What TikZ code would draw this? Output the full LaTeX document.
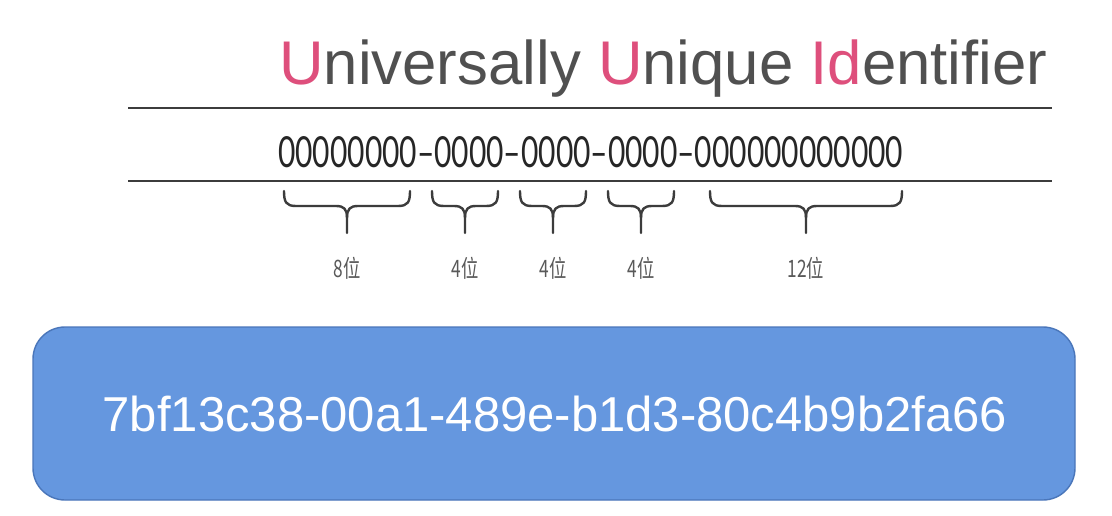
\documentclass[tikz,border=0pt]{standalone}
\usepackage{fontspec}
\setmainfont{Liberation Sans}
\newfontfamily\cjk{Noto Sans CJK SC}
\newfontfamily\digitfont{Lato}
\definecolor{titlegray}{HTML}{505050}
\definecolor{titlepink}{HTML}{DE4F7C}
\definecolor{rulegray}{HTML}{3C3C3C}
\definecolor{boxfill}{HTML}{6597DF}
\definecolor{boxedge}{HTML}{4A76BA}
\tikzset{
  hrule/.style={draw=rulegray, line width=2.6pt},
  bracepath/.style={draw=rulegray, line width=2.4pt, line cap=round, line join=round},
  bitlabel/.style={text=rulegray!85, inner sep=0pt, font=\cjk\fontsize{24}{26}\selectfont, xscale=0.72},
  uuidbox/.style={draw=boxedge, line width=1.4pt, fill=boxfill, rounded corners=32pt},
}
% custom brace: #1 = left x, #2 = right x
\newcommand\ubrace[2]{%
  \pgfmathsetmacro\bm{(#1+#2)/2}%
  \draw[bracepath] (#1,-191) .. controls (#1,-202) and (#1+2,-206) .. (#1+12,-206)
     -- (\bm-11,-206) .. controls (\bm-3,-206) and (\bm,-209) .. (\bm,-218) -- (\bm,-233);
  \draw[bracepath] (#2,-191) .. controls (#2,-202) and (#2-2,-206) .. (#2-12,-206)
     -- (\bm+11,-206) .. controls (\bm+3,-206) and (\bm,-209) .. (\bm,-218);
}
\begin{document}
\begin{tikzpicture}[x=1pt,y=1pt]
\useasboundingbox[fill=white] (0,0) rectangle (1112,-516);
% title
\node[anchor=base west, inner sep=0pt, text=titlegray, font=\fontsize{61.7}{70}\selectfont] (title) at (279,-85)
  {\textcolor{titlepink}{U}niversally \textcolor{titlepink}{U}nique \textcolor{titlepink}{Id}entifier};
% rules
\coordinate (r1a) at (128,-108); \coordinate (r1b) at (1052,-108);
\coordinate (r2a) at (128,-181); \coordinate (r2b) at (1052,-181);
\draw[hrule] (r1a) -- (r1b);
\draw[hrule] (r2a) -- (r2b);
% zeros
\node[anchor=west, inner sep=0pt, text=black!85] (zeros) at (278,-152)
  {\resizebox{625pt}{31pt}{\digitfont 00000000–0000–0000–0000–000000000000}};
% braces
\ubrace{284}{410}
\ubrace{432}{498}
\ubrace{520}{586}
\ubrace{608}{674}
\ubrace{710}{902}
\node[bitlabel] (l1) at (347,-268) {8位};
\node[bitlabel] (l2) at (465,-268) {4位};
\node[bitlabel] (l3) at (553,-268) {4位};
\node[bitlabel] (l4) at (641,-268) {4位};
\node[bitlabel] (l5) at (806,-268) {12位};
% blue box
\draw[uuidbox] (33,-327) rectangle (1075,-500);
\node[text=white, inner sep=0pt, font=\fontsize{49}{56}\selectfont] (uuid) at (555,-414)
  {7bf13c38-00a1-489e-b1d3-80c4b9b2fa66};
\end{tikzpicture}
\end{document}
